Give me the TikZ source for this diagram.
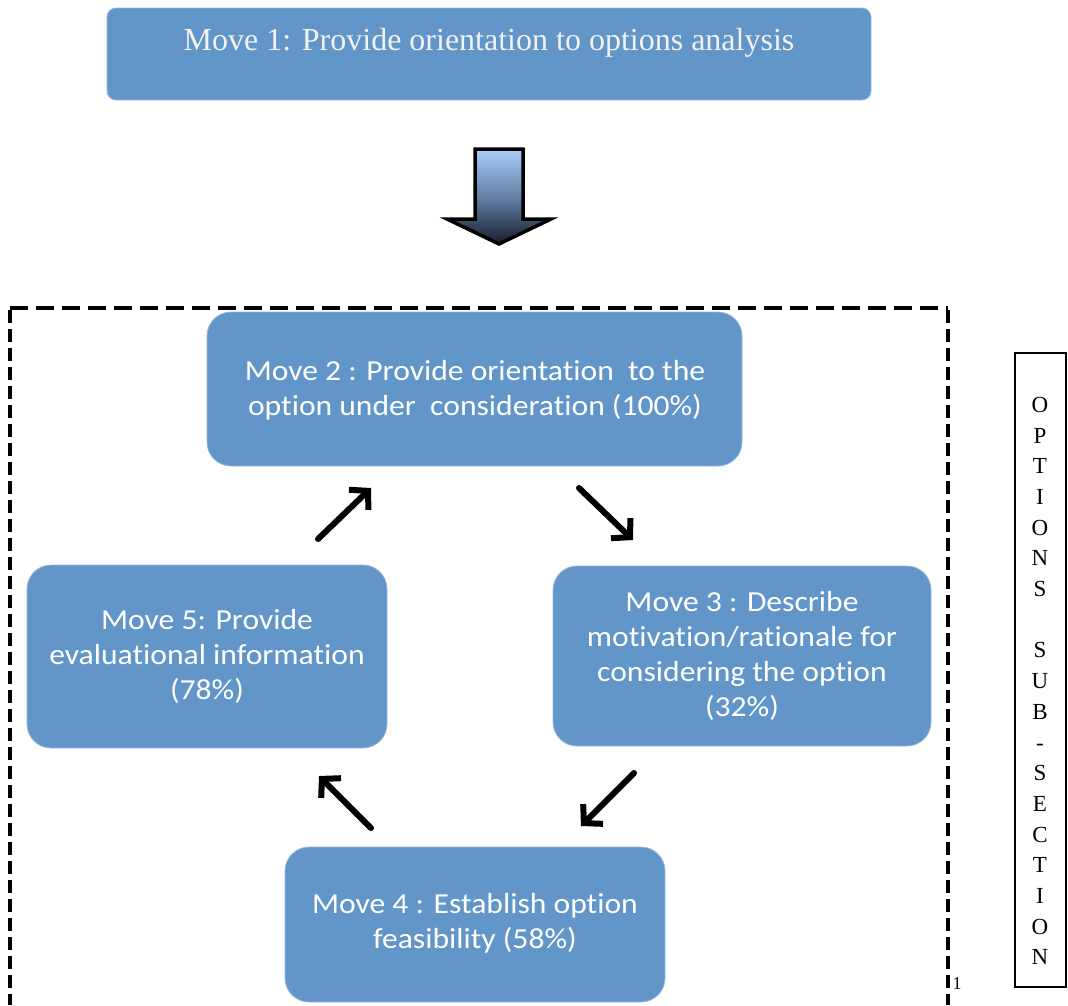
\documentclass[tikz,border=0pt]{standalone}
\usepackage{fontspec}
\setmainfont{Liberation Serif}
\newfontfamily\calib[FakeStretch=1.09, Ligatures=NoCommon]{Carlito}
\usetikzlibrary{arrows.meta}

\definecolor{boxblue}{RGB}{98,149,200}
\definecolor{boxedge}{RGB}{150,185,222}
\definecolor{arrowtop}{RGB}{170,205,250}
\definecolor{arrowmid}{RGB}{100,128,165}
\definecolor{arrowbot}{RGB}{22,30,44}

\tikzset{
  movebox/.style={fill=boxblue, draw=boxedge, line width=0.8pt, rounded corners=24pt},
  movetext/.style={text=white, align=center, font=\calib\fontsize{29}{35}\selectfont, inner sep=0pt},
  cyclearrow/.style={line width=6pt, line cap=round, line join=round,
    -{Straight Barb[length=13pt, width=28pt, line width=6pt]}},
  sideletters/.style={align=center, font=\fontsize{23}{30.7}\selectfont, inner sep=0pt},
}

\begin{document}
\begin{tikzpicture}[x=1pt, y=-1pt]
  \useasboundingbox (0,0) rectangle (1068,1005);

  % opening move
  \draw[movebox, rounded corners=9pt] (107,8) rectangle (871,100);
  \node[text={rgb,255:red,242;green,242;blue,242}, font=\fontsize{32}{38}\selectfont,
        anchor=base, inner sep=0pt] (m1) at (489,50) {Move 1: Provide orientation to options analysis};

  % block arrow leading into the cycle
  \shade[top color=arrowtop, bottom color=arrowbot, middle color=arrowmid,
         draw=black, line width=3.5pt, line join=miter]
    (475,149) -- (523,149) -- (523,219) -- (551,219) -- (499,244)
    -- (447,219) -- (475,219) -- cycle;

  % dashed frame around the repeating moves (open at the bottom)
  \draw[line width=3.2pt, dash pattern=on 18pt off 8pt] (10,308) -- (948,308);
  \draw[line width=3.2pt, dash pattern=on 13pt off 6pt] (10,310) -- (10,1005);
  \draw[line width=3.2pt, dash pattern=on 13pt off 6pt] (948,310) -- (948,1005);

  % the four cycling moves
  \draw[movebox] (207,312) rectangle (742,466);
  \node[movetext] (m2) at (475,390) {Move 2 : Provide orientation~ to the\\option under~ consideration (100\%)};

  \draw[movebox] (553,566) rectangle (931,746);
  \node[movetext] (m3) at (742,656) {Move 3 : Describe\\motivation/rationale for\\considering the option\\(32\%)};

  \draw[movebox] (27,565) rectangle (387,748);
  \node[movetext] (m5) at (207,656) {Move 5: Provide\\evaluational information\\(78\%)};

  \draw[movebox] (285,847) rectangle (665,1002);
  \node[movetext] (m4) at (475,923) {Move 4 : Establish option\\feasibility (58\%)};

  % arrow end points between the moves
  \coordinate (a52s) at (318,539);
  \coordinate (a52e) at (371,488);
  \coordinate (a23s) at (579,488);
  \coordinate (a23e) at (633,540);
  \coordinate (a34s) at (634,773);
  \coordinate (a34e) at (581,826);
  \coordinate (a45s) at (371,828);
  \coordinate (a45e) at (319,776);

  \draw[cyclearrow] (a52s) -- (a52e);
  \draw[cyclearrow] (a23s) -- (a23e);
  \draw[cyclearrow] (a34s) -- (a34e);
  \draw[cyclearrow] (a45s) -- (a45e);

  % side label box
  \draw[line width=1.6pt] (1066,353) -- (1015,353) -- (1015,987) -- (1066,987) -- cycle;
  \node[sideletters] (side) at (1040,681)
    {O\\P\\T\\I\\O\\N\\S\\\mbox{}\\S\\U\\B\\-\\S\\E\\C\\T\\I\\O\\N};

  % footnote mark
  \node[font=\fontsize{18}{20}\selectfont, inner sep=0pt] (fn) at (957,984) {1};
\end{tikzpicture}
\end{document}
